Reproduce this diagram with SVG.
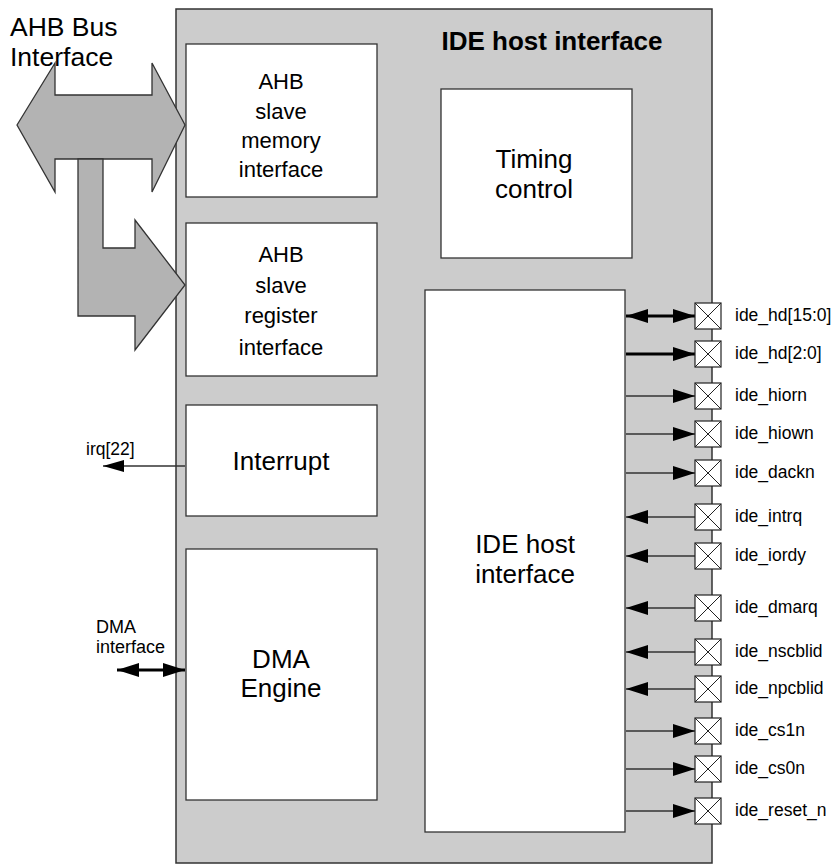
<svg xmlns="http://www.w3.org/2000/svg" width="837" height="865" viewBox="0 0 837 865">
<style>
  text { font-family: "Liberation Sans", Arial, sans-serif; fill: #000; }
  .blk { fill: #fff; stroke: #333; stroke-width: 1.3; }
  .bt { font-size: 22px; text-anchor: middle; }
  .bt2 { font-size: 26px; text-anchor: middle; }
  .pin { fill: #fff; stroke: #222; stroke-width: 1.2; }
  .px { stroke: #222; stroke-width: 1; fill: none; }
  .pl { font-size: 17.5px; }
  .w { stroke: #333; stroke-width: 1.3; fill: none; }
  .wt { stroke: #000; stroke-width: 3; fill: none; }
  .bus { fill: #b3b3b3; stroke: #333; stroke-width: 1.3; stroke-linejoin: miter; }
</style>
<defs>
  <marker id="ah" viewBox="0 0 22 14" refX="22" refY="7" markerWidth="22" markerHeight="14" markerUnits="userSpaceOnUse" orient="auto-start-reverse">
    <path d="M0,0 L22,7 L0,14 Z" fill="#000"/>
  </marker>
  <marker id="ahs" viewBox="0 0 21 12" refX="21" refY="6" markerWidth="21" markerHeight="12" markerUnits="userSpaceOnUse" orient="auto-start-reverse">
    <path d="M0,0 L21,6 L0,12 Z" fill="#000"/>
  </marker>
</defs>

<g id="outer">
  <rect x="176" y="9" width="536" height="854" fill="#cccccc" stroke="#333" stroke-width="1.5"/>
  <text x="552" y="50" font-size="26" font-weight="bold" text-anchor="middle">IDE host interface</text>
</g>

<g id="ahb-bus-label">
  <text x="10" y="36" font-size="26.5">AHB Bus</text>
  <text x="10" y="66" font-size="26.5">Interface</text>
</g>

<g id="connectors">
  <polygon id="bus-double" class="bus" points="17,125 55,63 55,95 152,95 152,63 185,125 152,192 152,159 55,159 55,192"/>
  <polygon id="bus-l" class="bus" points="78,159 103,159 103,248 135,248 135,220 185,285 135,350 135,316 78,316"/>
  <line class="w" x1="185" y1="466" x2="103" y2="466" marker-end="url(#ahs)"/>
  <line class="wt" x1="117" y1="670" x2="185" y2="670" marker-start="url(#ah)" marker-end="url(#ah)"/>
  <line class="wt" x1="626" y1="316" x2="695" y2="316" marker-start="url(#ah)" marker-end="url(#ah)"/>
  <line class="wt" x1="626" y1="354" x2="695" y2="354" marker-end="url(#ah)"/>
  <line class="w" x1="626" y1="396" x2="695" y2="396" marker-end="url(#ah)"/>
  <line class="w" x1="626" y1="434" x2="695" y2="434" marker-end="url(#ah)"/>
  <line class="w" x1="626" y1="473" x2="695" y2="473" marker-end="url(#ah)"/>
  <line class="w" x1="695" y1="517" x2="626" y2="517" marker-end="url(#ah)"/>
  <line class="w" x1="695" y1="556" x2="626" y2="556" marker-end="url(#ah)"/>
  <line class="w" x1="695" y1="608" x2="626" y2="608" marker-end="url(#ah)"/>
  <line class="w" x1="695" y1="652" x2="626" y2="652" marker-end="url(#ah)"/>
  <line class="w" x1="695" y1="689" x2="626" y2="689" marker-end="url(#ah)"/>
  <line class="w" x1="626" y1="731" x2="695" y2="731" marker-end="url(#ah)"/>
  <line class="w" x1="626" y1="769" x2="695" y2="769" marker-end="url(#ah)"/>
  <line class="w" x1="626" y1="811" x2="695" y2="811" marker-end="url(#ah)"/>
  <text x="86" y="455" font-size="17.5">irq[22]</text>
  <text x="96" y="633" font-size="18">DMA</text>
  <text x="96" y="653" font-size="18">interface</text>
</g>

<g id="ahb-mem">
  <rect class="blk" x="186" y="44" width="191" height="153"/>
  <text class="bt" x="281" y="89">AHB</text>
  <text class="bt" x="281" y="119">slave</text>
  <text class="bt" x="281" y="148">memory</text>
  <text class="bt" x="281" y="177">interface</text>
</g>

<g id="ahb-reg">
  <rect class="blk" x="186" y="223" width="191" height="153"/>
  <text class="bt" x="281" y="262">AHB</text>
  <text class="bt" x="281" y="293">slave</text>
  <text class="bt" x="281" y="323">register</text>
  <text class="bt" x="281" y="355">interface</text>
</g>

<g id="interrupt">
  <rect class="blk" x="186" y="405" width="191" height="111"/>
  <text class="bt2" x="281" y="470">Interrupt</text>
</g>

<g id="dma">
  <rect class="blk" x="186" y="549" width="191" height="251"/>
  <text class="bt2" x="281" y="668" font-size="26.5">DMA</text>
  <text class="bt2" x="281" y="697" font-size="26.5">Engine</text>
</g>

<g id="timing">
  <rect class="blk" x="441" y="89" width="191" height="169"/>
  <text class="bt2" x="534" y="168" font-size="25">Timing</text>
  <text class="bt2" x="534" y="198" font-size="25">control</text>
</g>

<g id="ide-core">
  <rect class="blk" x="425" y="290" width="200" height="542"/>
  <text class="bt2" x="525" y="553" font-size="27">IDE host</text>
  <text class="bt2" x="525" y="583" font-size="27">interface</text>
</g>

<g id="pins">
  <g id="pin-hd15"><rect class="pin" x="695" y="303" width="26" height="26"/><path class="px" d="M695,303 L721,329 M721,303 L695,329"/><text class="pl" x="735" y="321">ide_hd[15:0]</text></g>
  <g id="pin-hd2"><rect class="pin" x="695" y="341" width="26" height="26"/><path class="px" d="M695,341 L721,367 M721,341 L695,367"/><text class="pl" x="735" y="359">ide_hd[2:0]</text></g>
  <g id="pin-hiorn"><rect class="pin" x="695" y="383" width="26" height="26"/><path class="px" d="M695,383 L721,409 M721,383 L695,409"/><text class="pl" x="735" y="401">ide_hiorn</text></g>
  <g id="pin-hiown"><rect class="pin" x="695" y="421" width="26" height="26"/><path class="px" d="M695,421 L721,447 M721,421 L695,447"/><text class="pl" x="735" y="439">ide_hiown</text></g>
  <g id="pin-dackn"><rect class="pin" x="695" y="460" width="26" height="26"/><path class="px" d="M695,460 L721,486 M721,460 L695,486"/><text class="pl" x="735" y="478">ide_dackn</text></g>
  <g id="pin-intrq"><rect class="pin" x="695" y="504" width="26" height="26"/><path class="px" d="M695,504 L721,530 M721,504 L695,530"/><text class="pl" x="735" y="522">ide_intrq</text></g>
  <g id="pin-iordy"><rect class="pin" x="695" y="543" width="26" height="26"/><path class="px" d="M695,543 L721,569 M721,543 L695,569"/><text class="pl" x="735" y="561">ide_iordy</text></g>
  <g id="pin-dmarq"><rect class="pin" x="695" y="595" width="26" height="26"/><path class="px" d="M695,595 L721,621 M721,595 L695,621"/><text class="pl" x="735" y="613">ide_dmarq</text></g>
  <g id="pin-nscblid"><rect class="pin" x="695" y="639" width="26" height="26"/><path class="px" d="M695,639 L721,665 M721,639 L695,665"/><text class="pl" x="735" y="657">ide_nscblid</text></g>
  <g id="pin-npcblid"><rect class="pin" x="695" y="676" width="26" height="26"/><path class="px" d="M695,676 L721,702 M721,676 L695,702"/><text class="pl" x="735" y="694">ide_npcblid</text></g>
  <g id="pin-cs1n"><rect class="pin" x="695" y="718" width="26" height="26"/><path class="px" d="M695,718 L721,744 M721,718 L695,744"/><text class="pl" x="735" y="736">ide_cs1n</text></g>
  <g id="pin-cs0n"><rect class="pin" x="695" y="756" width="26" height="26"/><path class="px" d="M695,756 L721,782 M721,756 L695,782"/><text class="pl" x="735" y="774">ide_cs0n</text></g>
  <g id="pin-reset"><rect class="pin" x="695" y="798" width="26" height="26"/><path class="px" d="M695,798 L721,824 M721,798 L695,824"/><text class="pl" x="735" y="816">ide_reset_n</text></g>
</g>
</svg>
